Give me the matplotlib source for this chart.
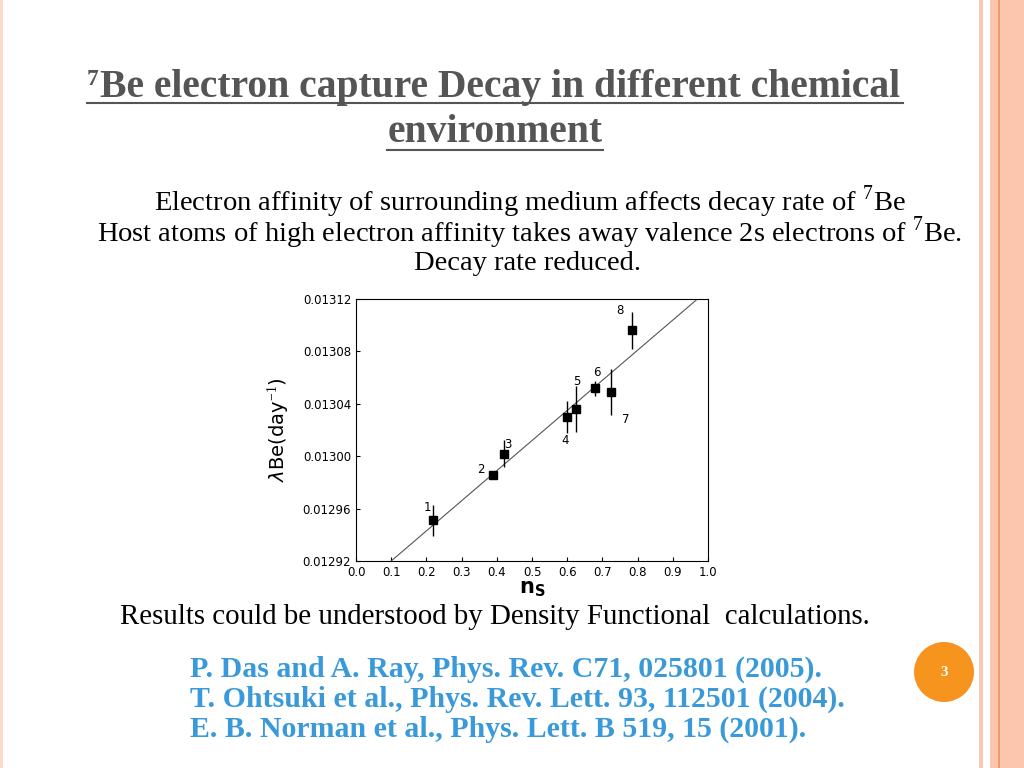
import matplotlib
matplotlib.use("Agg")
import matplotlib.pyplot as plt
from matplotlib.patches import Rectangle, Ellipse
from matplotlib.lines import Line2D

ns = [0.22, 0.39, 0.42, 0.60, 0.625, 0.68, 0.725, 0.785]
lam = [0.012951, 0.012986, 0.013002, 0.013030, 0.013036, 0.013052, 0.013049, 0.013096]
err = [0.000012, 0.0000025, 0.000010, 0.0000125, 0.0000175, 0.0000057, 0.0000175, 0.0000143]
labels = ["1", "2", "3", "4", "5", "6", "7", "8"]
label_off = [(-0.018, 0.000010), (-0.035, 0.000004), (0.012, 0.000007), (-0.005, -0.000018),
             (0.003, 0.000021), (0.003, 0.000012), (0.040, -0.000021), (-0.035, 0.000015)]
fit_x = [0.1, 0.97]
fit_y = [0.01292, 0.01312]
xticks = [0.0, 0.1, 0.2, 0.3, 0.4, 0.5, 0.6, 0.7, 0.8, 0.9, 1.0]
yticks = [0.01292, 0.01296, 0.01300, 0.01304, 0.01308, 0.01312]

serif = "Liberation Serif"
plt.rcParams["mathtext.fontset"] = "custom"
plt.rcParams["mathtext.rm"] = serif

fig = plt.figure(figsize=(10.24, 7.68), dpi=100)
fig.patch.set_facecolor("white")

fig.add_artist(Rectangle((979/1024, 0), 4/1024, 1, transform=fig.transFigure, color="#f9c9b6", lw=0))
fig.add_artist(Rectangle((990/1024, 0), 34/1024, 1, transform=fig.transFigure, color="#fcc6ae", lw=0))
fig.add_artist(Rectangle((998/1024, 0), 1.5/1024, 1, transform=fig.transFigure, color="#f0996e", lw=0))
fig.add_artist(Rectangle((0, 0), 3/1024, 1, transform=fig.transFigure, color="#fbd9cc", lw=0))

grey = "#555555"
fig.text(87/1024, 1-85/768, "7", fontsize=17, fontweight="bold", family=serif, color=grey, va="baseline")
fig.text(100/1024, 1-97/768, "Be electron capture Decay in different chemical", fontsize=28.5,
         fontweight="bold", family=serif, color=grey, va="baseline")
fig.add_artist(Line2D([87/1024, 903/1024], [1-103/768]*2, color=grey, lw=1.5))
fig.text(495/1024, 1-142/768, "environment", fontsize=28.5, fontweight="bold", family=serif,
         color=grey, ha="center", va="baseline")
fig.add_artist(Line2D([387/1024, 603/1024], [1-150/768]*2, color=grey, lw=1.5))

fig.text(530/1024, 1-202/768, r"Electron affinity of surrounding medium affects decay rate of $^{7}$Be",
         fontsize=20.5, family=serif, ha="center", va="center")
fig.text(530/1024, 1-233/768, r"Host atoms of high electron affinity takes away valence 2s electrons of $^{7}$Be.",
         fontsize=20.5, family=serif, ha="center", va="center")
fig.text(528/1024, 1-264/768, "Decay rate reduced.", fontsize=20.5, family=serif, ha="center", va="center")

fig.text(495/1024, 1-617/768, "Results could be understood by Density Functional  calculations.",
         fontsize=20.8, family=serif, ha="center", va="center")
blue = "#3a9ad9"
refs = ["P. Das and A. Ray, Phys. Rev. C71, 025801 (2005).",
        "T. Ohtsuki et al., Phys. Rev. Lett. 93, 112501 (2004).",
        "E. B. Norman et al., Phys. Lett. B 519, 15 (2001)."]
for i, r in enumerate(refs):
    fig.text(190/1024, 1-(669+30*i)/768, r, fontsize=21.5, family=serif, fontweight="bold",
             color=blue, va="center")
fig.add_artist(Ellipse((944/1024, 1-672/768), 60/1024, 60/768, transform=fig.transFigure,
                       color="#f7941e", lw=0))
fig.text(944/1024, 1-672/768, "3", fontsize=11, color="white", fontweight="bold",
         family=serif, ha="center", va="center")

ax = fig.add_axes([356/1024, 1-561/768, 352/1024, 262/768])
ax.plot(fit_x, fit_y, color="#555555", lw=0.8)
ax.errorbar(ns, lam, yerr=err, fmt="s", color="black", ms=6, elinewidth=1, capsize=0)
for x, y, l, (dx, dy) in zip(ns, lam, labels, label_off):
    ax.text(x + dx, y + dy, l, fontsize=8.5, ha="center", va="center")
ax.set_xlim(0, 1)
ax.set_ylim(0.01292, 0.01312)
ax.set_xticks(xticks)
ax.set_xticklabels([f"{t:.1f}" for t in xticks])
ax.set_yticks(yticks)
ax.set_yticklabels([f"{t:.5f}" for t in yticks])
ax.tick_params(labelsize=8.5, direction="in", length=3)
ax.set_xlabel(r"n$_{\mathregular{S}}$", fontsize=15, fontweight="bold", labelpad=0, family="DejaVu Sans")
ax.set_ylabel(r"$\lambda$Be(day$^{-1}$)", fontsize=14, labelpad=8, family="DejaVu Sans")
for s in ax.spines.values():
    s.set_linewidth(0.8)

fig.savefig("out.png", dpi=100)
